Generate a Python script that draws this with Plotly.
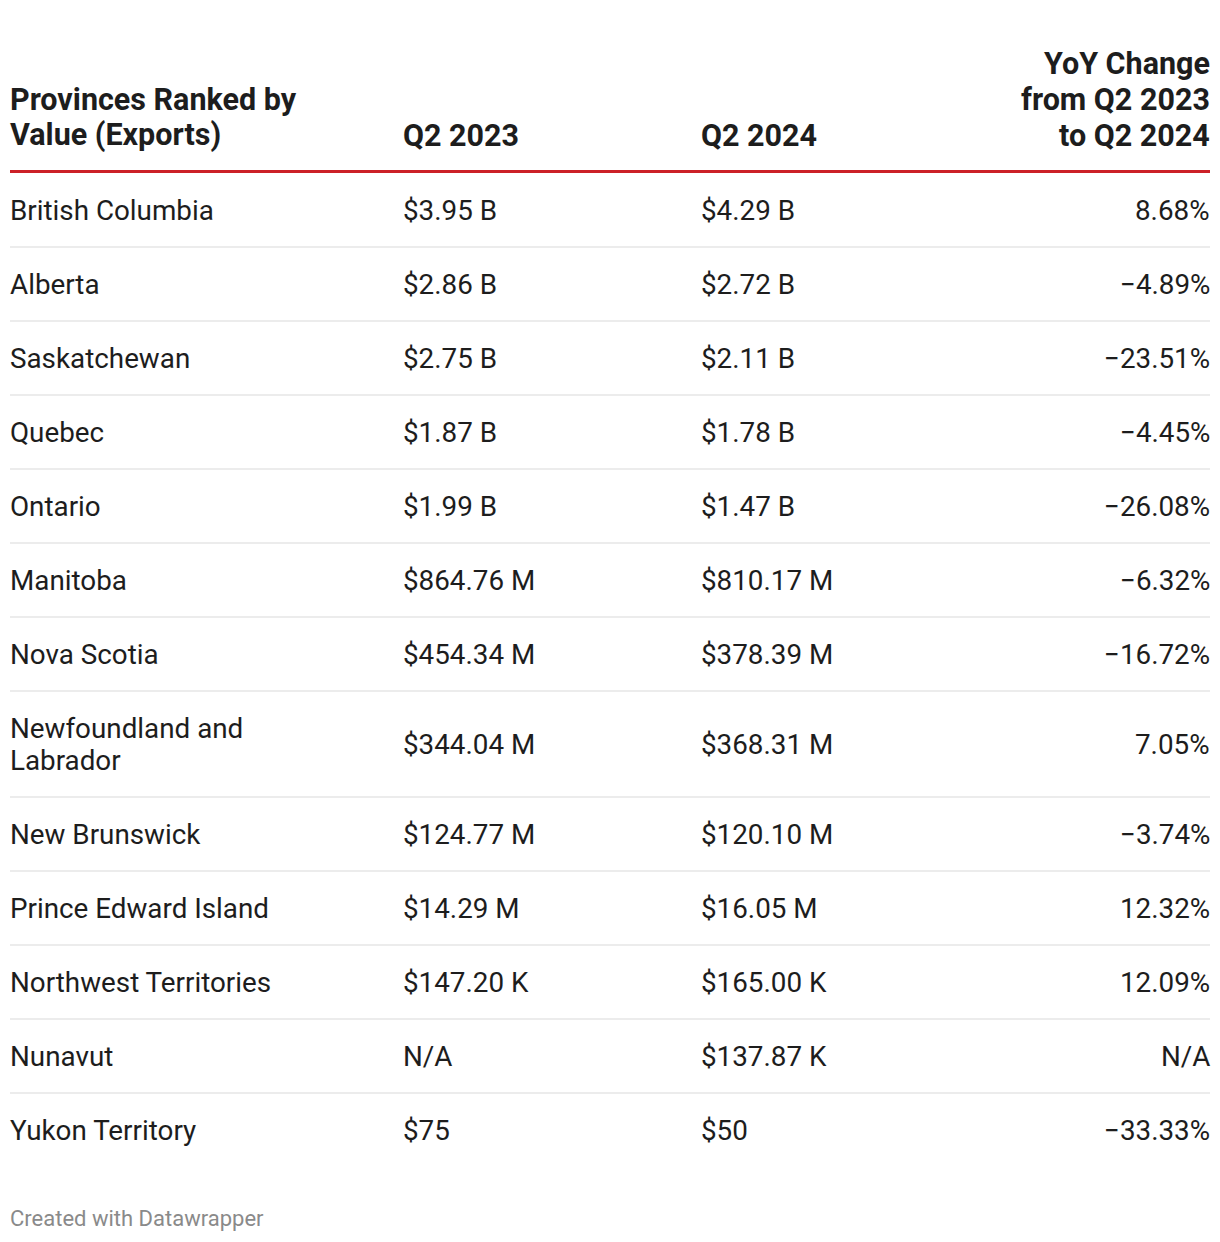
import plotly.graph_objects as go

# ---------------- data ----------------
provinces = [
    "British Columbia", "Alberta", "Saskatchewan", "Quebec", "Ontario",
    "Manitoba", "Nova Scotia", "Newfoundland and<br>Labrador", "New Brunswick",
    "Prince Edward Island", "Northwest Territories", "Nunavut", "Yukon Territory",
]
q2_2023 = [3.95e9, 2.86e9, 2.75e9, 1.87e9, 1.99e9, 864.76e6, 454.34e6, 344.04e6,
           124.77e6, 14.29e6, 147.20e3, None, 75]
q2_2024 = [4.29e9, 2.72e9, 2.11e9, 1.78e9, 1.47e9, 810.17e6, 378.39e6, 368.31e6,
           120.10e6, 16.05e6, 165.00e3, 137.87e3, 50]
yoy_change = [8.68, -4.89, -23.51, -4.45, -26.08, -6.32, -16.72, 7.05, -3.74,
              12.32, 12.09, None, -33.33]
headers = ["Provinces Ranked by<br>Value (Exports)", "Q2 2023", "Q2 2024",
           "YoY Change<br>from Q2 2023<br>to Q2 2024"]
footer = "Created with Datawrapper"


def fmt_money(v):
    if v is None:
        return "N/A"
    if v >= 1e9:
        return f"${v / 1e9:.2f} B"
    if v >= 1e6:
        return f"${v / 1e6:.2f} M"
    if v >= 1e3:
        return f"${v / 1e3:.2f} K"
    return f"${v:.0f}"


def fmt_pct(v):
    if v is None:
        return "N/A"
    s = f"{abs(v):.2f}%"
    return ("\u2212" + s) if v < 0 else s


# ---------------- layout constants ----------------
W, H = 1220, 1242
LEFT, RIGHT = 10, 1210
col_x = [9, 402, 700, 1211]
col_anchor = ["left", "left", "left", "right"]
TEXT = "#1d1d1d"
RED = "#cc2027"
SEP = "#e6e6e6"
FONT = "Roboto, Arial, sans-serif"
BODY_SIZE = 27.8
HEAD_SIZE = 30.5
HEAD_LINE = 36
BODY_LINE = 32
HEADER_BOTTOM = 135  # center of last header line
RULE_Y = 171.5
ROW_TOP = 173
ROW_BASE_H = 74

fig = go.Figure()
annotations = []
shapes = []


def add_lines(text, x, anchor, yc, size, spacing, bold=False, color=TEXT):
    lines = text.split("<br>")
    n = len(lines)
    for i, ln in enumerate(lines):
        y = yc + (i - (n - 1) / 2) * spacing
        annotations.append(dict(
            x=x, y=y, xref="x", yref="y", text=(f"<b>{ln}</b>" if bold else ln),
            showarrow=False, xanchor=anchor, yanchor="middle",
            font=dict(family=FONT, size=size, color=color), borderpad=0,
        ))


# header (bottom aligned)
for h, x, a in zip(headers, col_x, col_anchor):
    n = len(h.split("<br>"))
    yc = HEADER_BOTTOM - (n - 1) / 2 * HEAD_LINE
    add_lines(h, x, a, yc, HEAD_SIZE, HEAD_LINE, bold=True)

shapes.append(dict(type="line", xref="x", yref="y", x0=LEFT, x1=RIGHT,
                   y0=RULE_Y, y1=RULE_Y, line=dict(color=RED, width=3)))

# body rows
y = ROW_TOP
for i, name in enumerate(provinces):
    nlines = len(name.split("<br>"))
    rh = ROW_BASE_H + (nlines - 1) * BODY_LINE
    yc = y + rh / 2 + 0.5
    cells = [name, fmt_money(q2_2023[i]), fmt_money(q2_2024[i]), fmt_pct(yoy_change[i])]
    for c, x, a in zip(cells, col_x, col_anchor):
        add_lines(c, x, a, yc, BODY_SIZE, BODY_LINE)
    y += rh
    if i < len(provinces) - 1:
        shapes.append(dict(type="line", xref="x", yref="y", x0=LEFT, x1=RIGHT,
                           y0=y, y1=y, line=dict(color=SEP, width=1.5)))

# footer
add_lines(footer, LEFT - 1, "left", 1218, 22, 26, color="#8a8a8a")

fig.update_layout(
    width=W, height=H, margin=dict(l=0, r=0, t=0, b=0),
    paper_bgcolor="white", plot_bgcolor="white",
    xaxis=dict(range=[0, W], visible=False, fixedrange=True),
    yaxis=dict(range=[H, 0], visible=False, fixedrange=True),
    annotations=annotations, shapes=shapes, showlegend=False,
)

fig.write_html("out.html", post_script="document.body.style.margin='0px';",
               config={"displayModeBar": False})
